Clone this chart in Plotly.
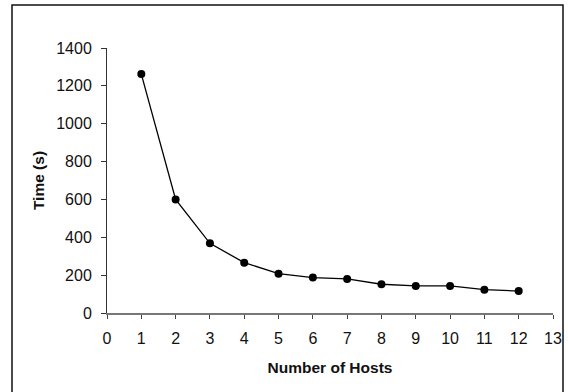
import plotly.graph_objects as go

hosts = [1, 2, 3, 4, 5, 6, 7, 8, 9, 10, 11, 12]
time_s = [1262, 600, 368, 266, 208, 187, 180, 152, 143, 143, 123, 116]
x_ticks = list(range(0, 14))
y_ticks = list(range(0, 1401, 200))

fig = go.Figure()
fig.add_trace(go.Scatter(
    x=hosts, y=time_s, mode="lines+markers",
    line=dict(color="black", width=1.3),
    marker=dict(color="black", size=8),
    showlegend=False, cliponaxis=False,
))

font = dict(family="Liberation Sans, Arial, sans-serif", color="#111")
fig.update_layout(
    width=568, height=392,
    margin=dict(l=107, r=15, t=48, b=79),
    paper_bgcolor="white", plot_bgcolor="white",
    font=dict(size=16, **font),
    xaxis=dict(
        range=[0, 13], tickvals=x_ticks, showgrid=False, zeroline=False,
        showline=True, linecolor="#777", linewidth=2,
        ticks="outside", ticklen=4, tickcolor="#444", tickwidth=1,
        tickfont=dict(size=16), ticklabelstandoff=6, automargin=False,
        title=dict(text="<b>Number of Hosts</b>", font=dict(size=15.5), standoff=16),
    ),
    yaxis=dict(
        range=[0, 1400], tickvals=y_ticks, showgrid=False, zeroline=False,
        showline=True, linecolor="#333", linewidth=1,
        ticks="outside", ticklen=5, tickcolor="#333", tickwidth=1,
        tickfont=dict(size=16), ticklabelstandoff=6, automargin=False,
        title=dict(text="<b>Time (s)</b>", font=dict(size=15.5), standoff=7),
    ),
    shapes=[dict(
        type="rect", xref="paper", yref="paper",
        x0=(12 - 107) / 446, x1=(563 - 107) / 446,
        y0=-0.4, y1=(313 - 5) / 265,
        line=dict(color="#111", width=1.5), fillcolor="rgba(0,0,0,0)",
        layer="below",
    )],
)

fig.write_html("out.html", config={"displayModeBar": False, "staticPlot": True},
               post_script="document.body.style.margin='0';")
